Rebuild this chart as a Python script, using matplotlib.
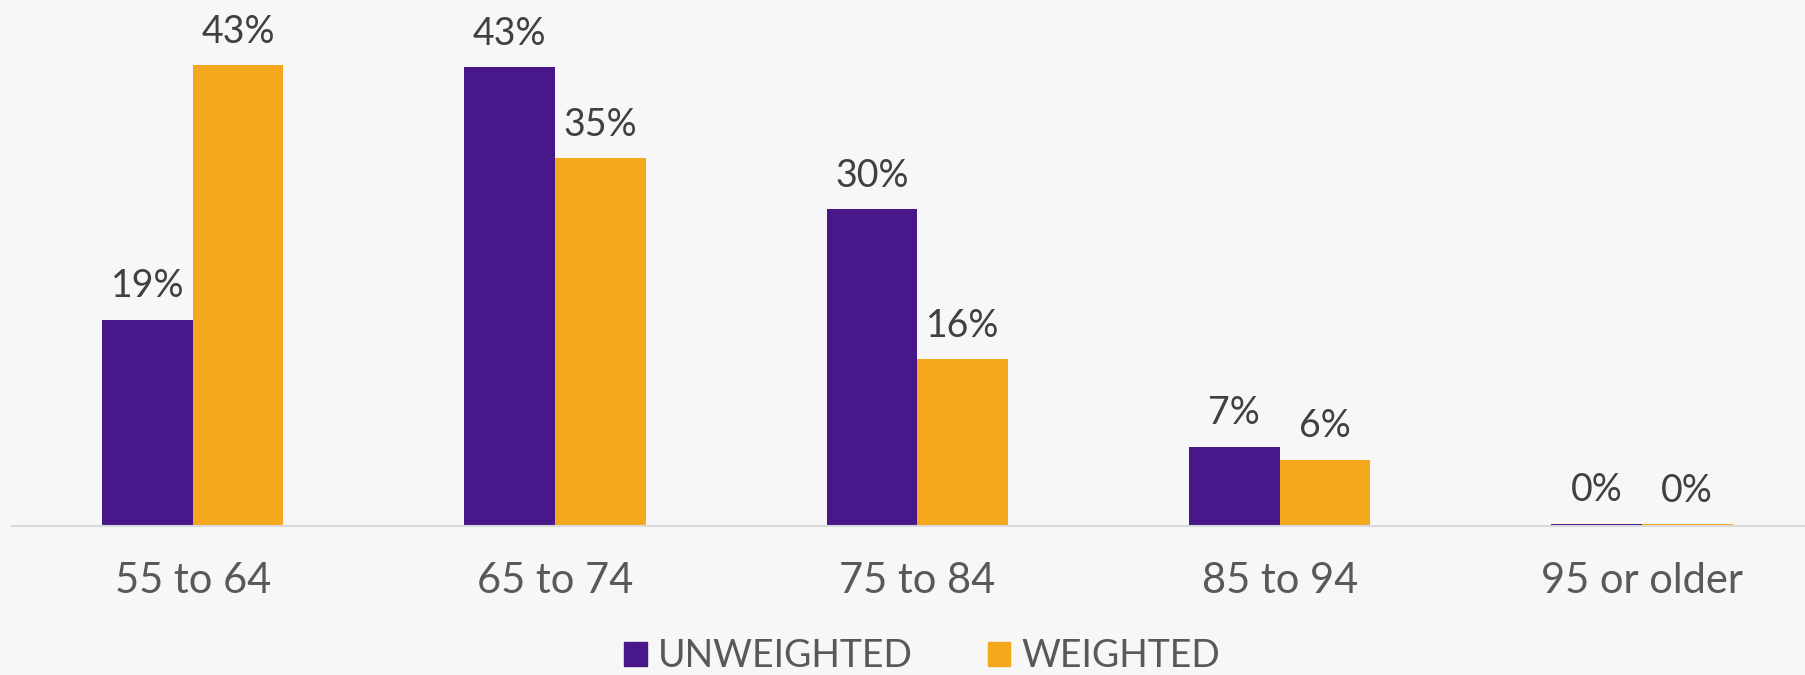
import numpy as np
import matplotlib.pyplot as plt
from matplotlib.patches import Patch

# age groups and shares (%)
categories = ["55 to 64", "65 to 74", "75 to 84", "85 to 94", "95 or older"]
unweighted = [19.3, 42.9, 29.6, 7.4, 0.2]
weighted = [43.1, 34.4, 15.6, 6.2, 0.15]
labels_unw = ["19%", "43%", "30%", "7%", "0%"]
labels_w = ["43%", "35%", "16%", "6%", "0%"]

PURPLE = "#48188A"
ORANGE = "#F5A81E"
BG = "#F7F7F7"

plt.rcParams['font.family'] = ['Lato', 'DejaVu Sans']

fig = plt.figure(figsize=(18.05, 6.75), dpi=100, facecolor=BG)
ax = fig.add_axes([0.0064, 0.221, 0.9936, 0.779])
ax.set_facecolor(BG)

x = np.arange(len(categories))
w = 0.25
b1 = ax.bar(x - w / 2, unweighted, w, color=PURPLE, label="UNWEIGHTED")
b2 = ax.bar(x + w / 2, weighted, w, color=ORANGE, label="WEIGHTED")

for bars, labs in [(b1, labels_unw), (b2, labels_w)]:
    for rect, lab in zip(bars, labs):
        ax.annotate(lab, (rect.get_x() + rect.get_width() / 2, rect.get_height()),
                    xytext=(0, 11), textcoords="offset points",
                    ha="center", va="bottom", fontsize=27, color="#404040")

ax.set_xlim(-0.5, 4.45)
ax.set_ylim(0, 49.2)
ax.set_yticks([])
ax.set_xticks(x)
ax.set_xticklabels(categories, fontsize=30, color="#595959")
ax.tick_params(axis="x", length=0, pad=26)
for s in ["top", "right", "left"]:
    ax.spines[s].set_visible(False)
ax.spines["bottom"].set_color("#D9D9D9")
ax.spines["bottom"].set_linewidth(1.5)

handles = [Patch(color=PURPLE, label="UNWEIGHTED"), Patch(color=ORANGE, label="WEIGHTED")]
fig.legend(handles=handles, loc="center", bbox_to_anchor=(0.511, 0.028), ncol=2,
           frameon=False, fontsize=27, handlelength=0.6, handleheight=0.6,
           handletextpad=0.3, columnspacing=2.0, labelcolor="#595959")

fig.savefig("out.png", dpi=100, facecolor=BG)
